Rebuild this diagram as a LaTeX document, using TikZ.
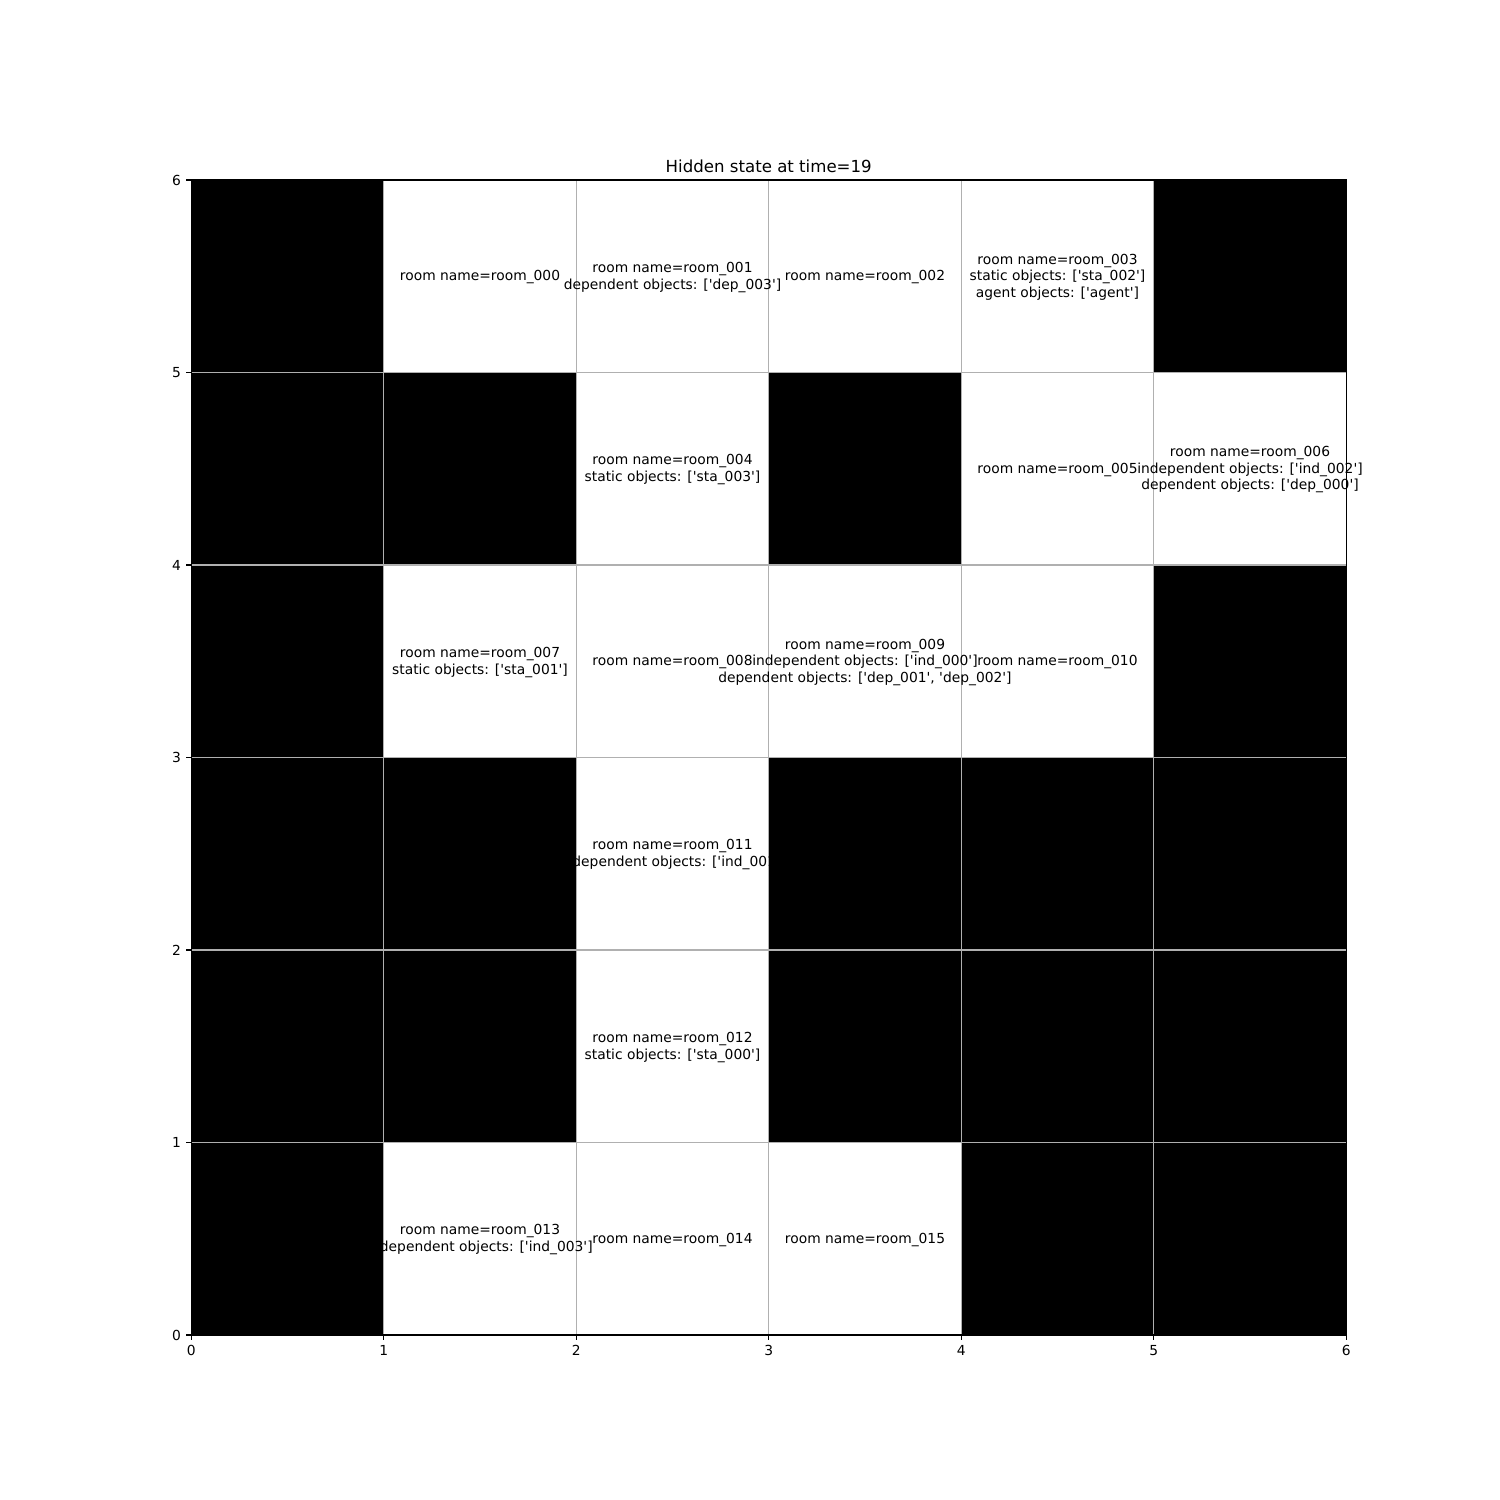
\documentclass[tikz,border=0pt]{standalone}
\usepackage{fontspec}
\setmainfont{DejaVu Sans}[Ligatures=TeXOff]
\definecolor{gridgray}{HTML}{B0B0B0}
\tikzset{
  room/.style={align=center, inner sep=0pt, yshift=-0.7pt, font=\fontsize{10}{12}\selectfont},
  ticklabel/.style={inner sep=0pt, font=\fontsize{10}{12}\selectfont},
  gridline/.style={color=gridgray, line width=0.8pt},
  spine/.style={line width=0.8pt},
}

\begin{document}
\begin{tikzpicture}[x=1.925in, y=1.925in]
\useasboundingbox[fill=white] (-0.99351,-0.85714) rectangle (6.79870,6.93506);
% walls
\foreach \c/\r in {0/5,5/5,0/4,1/4,3/4,0/3,5/3,0/2,1/2,3/2,4/2,5/2,0/1,1/1,3/1,4/1,5/1,0/0,4/0,5/0}
  \fill[black] (\c,\r) rectangle ++(1,1);
\foreach \i in {0,...,6} {
  \draw[gridline] (\i,0) -- (\i,6);
  \draw[gridline] (0,\i) -- (6,\i);
}
\draw[spine] (0,0) rectangle (6,6);
\foreach \i in {0,...,6} {
  \draw[spine] (\i,0) -- ++(0,-3.5pt) node[ticklabel, below=3.5pt] (xt\i) {\i};
  \draw[spine] (0,\i) -- ++(-3.5pt,0) node[ticklabel, left=3.5pt] (yt\i) {\i};
}
\node[anchor=base, yshift=5.4pt, inner sep=0pt, font=\fontsize{12}{14}\selectfont] (title) at (3,6) {Hidden state at time=19};
% rooms
\node[room] (r000) at (1.5,5.5) {room name=room\_000};
\node[room] (r001) at (2.5,5.5) {room name=room\_001\\dependent objects: ['dep\_003']};
\node[room] (r002) at (3.5,5.5) {room name=room\_002};
\node[room] (r003) at (4.5,5.5) {room name=room\_003\\static objects: ['sta\_002']\\agent objects: ['agent']};
\node[room] (r004) at (2.5,4.5) {room name=room\_004\\static objects: ['sta\_003']};
\node[room] (r005) at (4.5,4.5) {room name=room\_005};
\node[room] (r006) at (5.5,4.5) {room name=room\_006\\independent objects: ['ind\_002']\\dependent objects: ['dep\_000']};
\node[room] (r007) at (1.5,3.5) {room name=room\_007\\static objects: ['sta\_001']};
\node[room] (r008) at (2.5,3.5) {room name=room\_008};
\node[room] (r009) at (3.5,3.5) {room name=room\_009\\independent objects: ['ind\_000']\\dependent objects: ['dep\_001', 'dep\_002']};
\node[room] (r010) at (4.5,3.5) {room name=room\_010};
\node[room] (r011) at (2.5,2.5) {room name=room\_011\\independent objects: ['ind\_001']};
\node[room] (r012) at (2.5,1.5) {room name=room\_012\\static objects: ['sta\_000']};
\node[room] (r013) at (1.5,0.5) {room name=room\_013\\independent objects: ['ind\_003']};
\node[room] (r014) at (2.5,0.5) {room name=room\_014};
\node[room] (r015) at (3.5,0.5) {room name=room\_015};
\end{tikzpicture}
\end{document}
